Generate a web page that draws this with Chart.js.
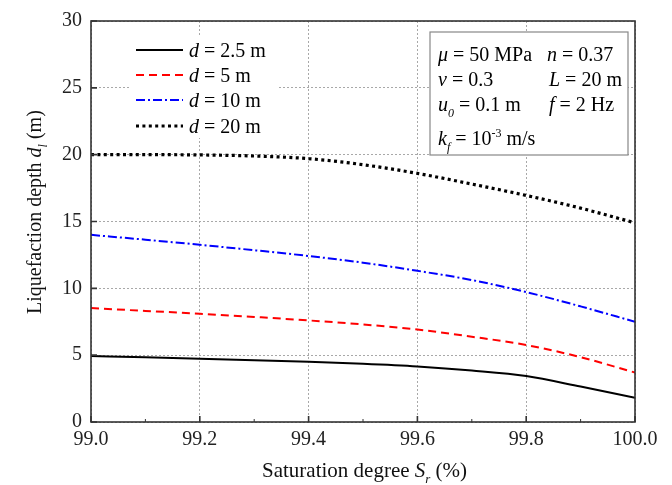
<!DOCTYPE html>
<html>
<head>
<meta charset="utf-8">
<script src="https://cdn.jsdelivr.net/npm/chart.js@4/dist/chart.umd.min.js"></script>
<style>
html,body{margin:0;padding:0;background:#fff;}
canvas{display:block;}
</style>
</head>
<body>
<canvas id="c" width="672" height="485"></canvas>
<script>
// ---- data ----
const saturation = [99.0, 99.1, 99.2, 99.3, 99.4, 99.5, 99.6, 99.7, 99.8, 99.9, 100.0];
const depth_d2_5 = [4.94, 4.84, 4.74, 4.62, 4.50, 4.35, 4.15, 3.85, 3.44, 2.65, 1.81];
const depth_d5   = [8.52, 8.31, 8.10, 7.86, 7.60, 7.30, 6.92, 6.38, 5.76, 4.85, 3.70];
const depth_d10  = [14.0, 13.64, 13.26, 12.85, 12.42, 11.92, 11.31, 10.62, 9.72, 8.65, 7.50];
const depth_d20  = [20.0, 20.0, 19.98, 19.9, 19.7, 19.25, 18.6, 17.8, 16.95, 16.0, 14.9];
const seriesLabels = ["2.5", "5", "10", "20"];
const xTicks = [99.0, 99.2, 99.4, 99.6, 99.8, 100.0];
const yTicks = [0, 5, 10, 15, 20, 25, 30];

const SERIF = '"Liberation Serif", "Times New Roman", serif';

function pts(ys){ return saturation.map((x,i)=>({x:x, y:ys[i]})); }

const styles = [
  {color:'#000000', dash:[], width:2},
  {color:'#ff0000', dash:[8,5], width:2},
  {color:'#0000ff', dash:[9,3,2,3], width:2},
  {color:'#000000', dash:[3,3.4], width:3.2}
];
const seriesData = [depth_d2_5, depth_d5, depth_d10, depth_d20];

const datasets = seriesData.map((d,i)=>({
  label: 'd = ' + seriesLabels[i] + ' m',
  data: pts(d),
  borderColor: styles[i].color,
  borderDash: styles[i].dash,
  borderWidth: styles[i].width,
  pointRadius: 0,
  fill: false,
  cubicInterpolationMode: 'monotone'
}));

// rich text helper: segments [{t, it, sub, sup}]
function drawRich(ctx, x, y, segs, size){
  let cx = x;
  for(const s of segs){
    const fs = (s.sub||s.sup) ? Math.round(size*0.62) : size;
    ctx.font = (s.it?'italic ':'') + fs + 'px ' + SERIF;
    let dy = 0;
    if(s.sub) dy = size*0.3;
    if(s.sup) dy = -size*0.38;
    ctx.fillText(s.t, cx, y+dy);
    cx += ctx.measureText(s.t).width;
  }
  return cx;
}

const decor = {
  id:'decor',
  beforeDatasetsDraw(chart){
    const ctx = chart.ctx;
    ctx.save();
    ctx.fillStyle = '#fff';
    ctx.fillRect(129, 36, 150, 102);
    ctx.fillRect(430, 32, 198, 123);
    ctx.restore();
  },
  afterDatasetsDraw(chart){
    const ctx = chart.ctx;
    const a = chart.chartArea;
    const xs = chart.scales.x, ys = chart.scales.y;
    ctx.save();
    // frame
    ctx.strokeStyle = '#333';
    ctx.lineWidth = 1.6;
    ctx.strokeRect(a.left, a.top, a.right-a.left, a.bottom-a.top);
    // inward ticks
    ctx.beginPath();
    for(const v of xTicks){
      const px = xs.getPixelForValue(v);
      ctx.moveTo(px, a.bottom); ctx.lineTo(px, a.bottom-6);
    }
    for(const v of yTicks){
      const py = ys.getPixelForValue(v);
      ctx.moveTo(a.left, py); ctx.lineTo(a.left+6, py);
    }
    ctx.stroke();
    ctx.lineWidth = 1;
    ctx.beginPath();
    for(const v of [99.1,99.3,99.5,99.7,99.9]){
      const px = xs.getPixelForValue(v);
      ctx.moveTo(px, a.bottom); ctx.lineTo(px, a.bottom-3);
    }
    ctx.stroke();

    // legend
    ctx.fillStyle = '#000';
    ctx.textBaseline = 'alphabetic';
    const rowY = [50, 75, 100, 126];
    chart.data.datasets.forEach((ds,i)=>{
      ctx.save();
      ctx.strokeStyle = ds.borderColor;
      ctx.lineWidth = ds.borderWidth;
      ctx.setLineDash(ds.borderDash);
      ctx.beginPath();
      ctx.moveTo(136, rowY[i]); ctx.lineTo(183, rowY[i]);
      ctx.stroke();
      ctx.restore();
      drawRich(ctx, 189, rowY[i]+7, [{t:'d',it:true},{t:' = '+seriesLabels[i]+' m'}], 20);
    });

    // parameter box
    ctx.strokeStyle = '#888';
    ctx.lineWidth = 1.2;
    ctx.strokeRect(430, 32, 198, 123);
    ctx.fillStyle = '#000';
    const c1 = 438, c2 = 549, fs = 20;
    drawRich(ctx, c1, 61, [{t:'μ',it:true},{t:' = 50 MPa'}], fs);
    drawRich(ctx, c2-2, 61, [{t:'n',it:true},{t:' = 0.37'}], fs);
    drawRich(ctx, c1, 86, [{t:'v',it:true},{t:' = 0.3'}], fs);
    drawRich(ctx, c2, 86, [{t:'L',it:true},{t:' = 20 m'}], fs);
    drawRich(ctx, c1, 111, [{t:'u',it:true},{t:'0',it:true,sub:true},{t:' = 0.1 m'}], fs);
    drawRich(ctx, c2, 111, [{t:'f',it:true},{t:' = 2 Hz'}], fs);
    drawRich(ctx, c1, 145, [{t:'k',it:true},{t:'f',it:true,sub:true},{t:' = 10'},{t:'-3',sup:true},{t:' m/s'}], fs);

    // axis titles
    ctx.fillStyle = '#111';
    drawRich(ctx, 262, 477, [{t:'Saturation degree '},{t:'S',it:true},{t:'r',it:true,sub:true},{t:' (%)'}], 21);
    ctx.save();
    ctx.translate(41, 314);
    ctx.rotate(-Math.PI/2);
    drawRich(ctx, 0, 0, [{t:'Liquefaction depth '},{t:'d',it:true},{t:'l',it:true,sub:true},{t:' (m)'}], 20);
    ctx.restore();
    ctx.restore();
  }
};

new Chart(document.getElementById('c'), {
  type: 'line',
  data: { datasets: datasets },
  options: {
    responsive: false,
    animation: false,
    layout: { padding: { top: 17, right: 37, bottom: 0, left: 0 } },
    plugins: { legend: { display: false }, tooltip: { enabled: false } },
    scales: {
      x: {
        type: 'linear', min: 99, max: 100,
        afterFit(s){ s.height = 63; },
        afterBuildTicks(s){ s.ticks = xTicks.map(v=>({value:v})); },
        ticks: { callback: v => Number(v).toFixed(1), color:'#222', font:{family:SERIF, size:20}, padding: 6, maxRotation:0 },
        grid: { color:'#a8a8a8', lineWidth:1, drawTicks:false },
        border: { display:false, dash:[2,2] }
      },
      y: {
        min: 0, max: 30,
        afterFit(s){ s.width = 91; },
        afterBuildTicks(s){ s.ticks = yTicks.map(v=>({value:v})); },
        ticks: { color:'#222', font:{family:SERIF, size:20}, padding: 9 },
        grid: { color:'#a8a8a8', lineWidth:1, drawTicks:false },
        border: { display:false, dash:[2,2] }
      }
    }
  },
  plugins: [decor]
});
</script>
</body>
</html>
